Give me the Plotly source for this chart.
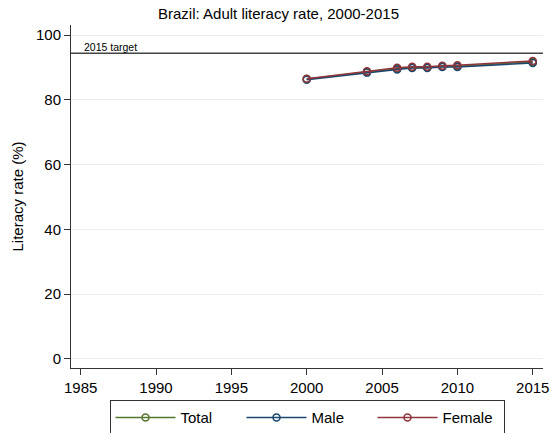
import plotly.graph_objects as go

years = [2000, 2004, 2006, 2007, 2008, 2009, 2010, 2015]
total = [86.4, 88.6, 89.6, 90.0, 90.0, 90.3, 90.4, 91.7]
male = [86.2, 88.4, 89.4, 89.8, 89.8, 90.1, 90.1, 91.4]
female = [86.5, 88.8, 89.9, 90.2, 90.2, 90.5, 90.7, 92.0]
target = 94.4
x_ticks = [1985, 1990, 1995, 2000, 2005, 2010, 2015]
y_ticks = [0, 20, 40, 60, 80, 100]

series = [("Total", total, "#55752f"), ("Male", male, "#1a476f"), ("Female", female, "#90353b")]

fig = go.Figure()
for name, vals, col in series:
    fig.add_trace(go.Scatter(
        x=years, y=vals, name=name, mode="lines+markers",
        line=dict(color=col, width=1.5),
        marker=dict(symbol="circle-open", size=7, color=col, line=dict(color=col, width=1.5)),
    ))

fig.add_shape(type="line", xref="paper", x0=0, x1=1, yref="y", y0=target, y1=target,
              line=dict(color="#444444", width=1.5))
fig.add_annotation(xref="x", x=1985.1, yref="y", y=target, text="2015 target",
                   showarrow=False, xanchor="left", yanchor="bottom",
                   font=dict(size=10.5, color="black"), yshift=-2)

fig.update_layout(
    width=557, height=433,
    margin=dict(l=71, r=14, t=25, b=65, autoexpand=False),
    paper_bgcolor="white", plot_bgcolor="white",
    font=dict(family="Liberation Sans, Arial, sans-serif", color="black"),
    title=dict(text="Brazil: Adult literacy rate, 2000-2015", x=0.5,
               xanchor="center", xref="container", yref="container",
               y=1 - 14 / 433, yanchor="middle", font=dict(size=15)),
    showlegend=True,
    legend=dict(orientation="h", x=0.5, xanchor="center", y=-0.094, yanchor="top",
                bordercolor="#333333", borderwidth=1, font=dict(size=15),
                entrywidth=56, itemwidth=60, traceorder="normal", tracegroupgap=0),
    xaxis=dict(range=[1984.36, 2015.68], tickvals=x_ticks, ticks="outside", ticklen=6,
               showgrid=False, showline=True, linecolor="#333333", linewidth=1,
               tickcolor="#333333", tickfont=dict(size=15), zeroline=False, automargin=False),
    yaxis=dict(range=[-2.78, 103.1], tickvals=y_ticks, ticks="outside", ticklen=6,
               showgrid=True, gridcolor="#ececec", gridwidth=1,
               showline=True, linecolor="#333333", linewidth=1, tickcolor="#333333",
               tickfont=dict(size=15), zeroline=False, automargin=False,
               title=dict(text="Literacy rate (%)", font=dict(size=15), standoff=8)),
)

fig.write_html("out.html", config={"displayModeBar": False},
               post_script="document.body.style.margin='0';document.body.style.overflow='hidden';")
